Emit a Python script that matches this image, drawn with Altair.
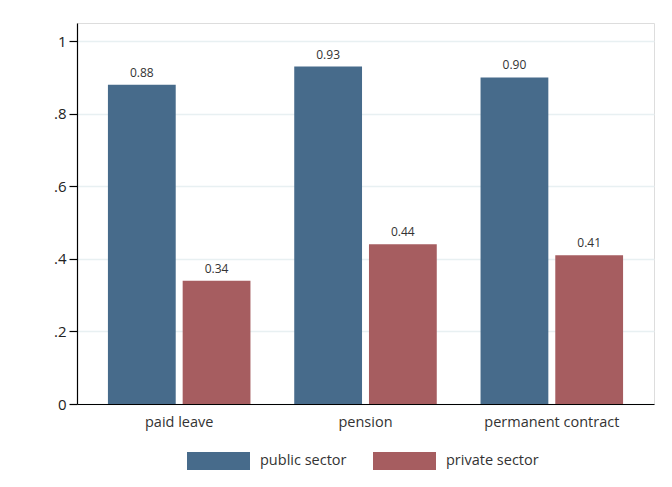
import altair as alt
import pandas as pd

categories = ["paid leave", "pension", "permanent contract"]
series = ["public sector", "private sector"]
public_vals = [0.88, 0.93, 0.90]
private_vals = [0.34, 0.44, 0.41]
colors = ["#476b8b", "#a65d60"]
y_ticks = [0, 0.2, 0.4, 0.6, 0.8, 1.0]

rows = []
for c, v in zip(categories, public_vals):
    rows.append({"category": c, "sector": series[0], "value": v, "label": f"{v:.2f}"})
for c, v in zip(categories, private_vals):
    rows.append({"category": c, "sector": series[1], "value": v, "label": f"{v:.2f}"})
df = pd.DataFrame(rows)

FONT = "Open Sans"

x_enc = alt.X("category:N", sort=categories, title=None,
              scale=alt.Scale(paddingInner=0.235, paddingOuter=0.166),
              axis=alt.Axis(labelAngle=0, ticks=False, labelFontSize=14.5, labelColor="#333333",
                            labelPadding=11, domainColor="#000000", domainWidth=1.2, grid=False,
                            labelFont=FONT))
xoff = alt.XOffset("sector:N", sort=series, scale=alt.Scale(paddingInner=0.093))

base = alt.Chart(df).encode(x=x_enc, xOffset=xoff)

bars = base.mark_bar().encode(
    y=alt.Y("value:Q", title=None, scale=alt.Scale(domain=[0, 1.05], nice=False),
            axis=alt.Axis(values=y_ticks, tickSize=8, tickColor="#000000", domainColor="#000000",
                          domainWidth=1.2, tickWidth=1.2, labelFontSize=15, labelColor="#222222",
                          labelPadding=3, labelFont=FONT, gridColor="#e8f0f2", gridWidth=1.5,
                          labelExpr="datum.value == 0 ? '0' : datum.value == 1 ? '1' : replace(format(datum.value, '.1f'), '0.', '.')")),
    color=alt.Color("sector:N", sort=series, scale=alt.Scale(domain=series, range=colors),
                    legend=alt.Legend(title=None, orient="none", legendX=110, legendY=429,
                                      direction="horizontal",
                                      symbolType="M-1,-1 L6,-1 L6,1 L-1,1 Z", symbolSize=324,
                                      symbolStrokeWidth=0, symbolOpacity=1, labelOffset=55,
                                      columnPadding=26, labelFontSize=14.5, labelColor="#333333",
                                      labelFont=FONT)),
)

labels = base.mark_text(baseline="bottom", dy=-5, fontSize=12, color="#333333", font=FONT).encode(
    y=alt.Y("value:Q"), text="label:N")

chart = (bars + labels).properties(
    width=577, height=381,
    autosize=alt.AutoSizeParams(type="none"),
    padding={"left": 69, "top": 15, "right": 10, "bottom": 80},
).configure_view(stroke=None).configure(background="white")

chart.save("out.html", embed_options={"renderer": "svg", "actions": False})
